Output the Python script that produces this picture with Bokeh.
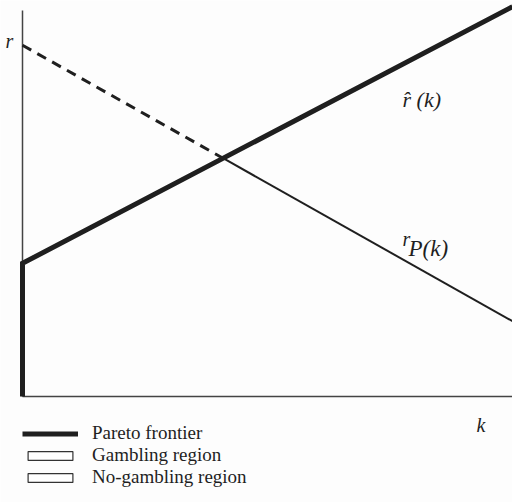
import numpy as np
from bokeh.plotting import figure
from bokeh.models import Range1d, Legend, LegendItem
from bokeh.core.properties import value
from bokeh.embed import file_html
from bokeh.resources import INLINE

# ---------------- data ----------------
k_ends = [0.0, 10.0]          # k at the two ends of the drawn lines
r_hat_ends = [3.45, 10.1]     # r-hat(k) at those k
r_p_ends = [9.1, 1.95]        # r_P(k) at those k
axis_k_max = 10.0
axis_r_max = 10.0
legend_labels = ["Pareto frontier", "Gambling region", "No-gambling region"]
axis_labels = ["r", "k"]
curve_labels = ["r\u0302 (k)", "r", "P(k)"]

# intersection of the two straight lines
m_hat = (r_hat_ends[1] - r_hat_ends[0]) / (k_ends[1] - k_ends[0])
m_p = (r_p_ends[1] - r_p_ends[0]) / (k_ends[1] - k_ends[0])
k_star = (r_p_ends[0] - r_hat_ends[0]) / (m_hat - m_p)
r_star = r_hat_ends[0] + m_hat * k_star

# ---------------- layout ----------------
W, H = 512, 502
PX_K = 49.0    # pixels per k unit
PX_R = 38.6    # pixels per r unit
ORIGIN_X, ORIGIN_Y = 22.0, 396.0   # canvas position of the origin


def kx(cx):
    return (cx - ORIGIN_X) / PX_K


def ry(cy):
    return (ORIGIN_Y - cy) / PX_R


INK = "#1f1f1f"
FONT = "Liberation Serif"

p = figure(width=W, height=H, output_backend="svg", toolbar_location=None,
           x_range=Range1d(kx(0), kx(W)), y_range=Range1d(ry(H), ry(0)),
           x_axis_location=None, y_axis_location=None,
           min_border=0, outline_line_color=None,
           background_fill_color="#fdfdfd", border_fill_color="#fdfdfd")
p.grid.visible = False

# axes
p.line([0, 0], [0, axis_r_max], line_color="#444444", line_width=1.5)
p.line([0, axis_k_max], [0, 0], line_color="#444444", line_width=1.5)

# r_P(k): dashed before the crossing, thin solid after
p.line([k_ends[0], k_star], [r_p_ends[0], r_star], line_color=INK,
       line_width=3, line_dash="10 7")
p.line([k_star, k_ends[1]], [r_star, r_p_ends[1]], line_color=INK,
       line_width=2)

# Pareto frontier (thick)
frontier = p.line([k_ends[0], k_ends[0], k_ends[1]],
                  [0, r_hat_ends[0], r_hat_ends[1]],
                  line_color=INK, line_width=5, line_join="miter")

# legend-only renderers for the (unshaded) regions
gamb = p.rect(x=[np.nan], y=[np.nan], width=1, height=1, fill_color="white",
              line_color="#333333", line_width=1.2)
nogamb = p.rect(x=[np.nan], y=[np.nan], width=1, height=1, fill_color="white",
                line_color="#333333", line_width=1.2)

# labels
txt = dict(text_font=value(FONT), text_font_style="italic",
           text_color=INK, text_baseline="alphabetic")
p.text(x=[kx(5)], y=[ry(40)], text=[axis_labels[0]], text_font_size="20px", **txt)
p.text(x=[kx(476)], y=[ry(424)], text=[axis_labels[1]], text_font_size="20px", **txt)
p.text(x=[kx(402)], y=[ry(99)], text=[curve_labels[0]], text_font_size="22px", **txt)
p.text(x=[kx(402)], y=[ry(238)], text=[curve_labels[1]], text_font_size="20px", **txt)
p.text(x=[kx(408)], y=[ry(248)], text=[curve_labels[2]], text_font_size="23px", **txt)

legend = Legend(items=[LegendItem(label=legend_labels[0], renderers=[frontier]),
                       LegendItem(label=legend_labels[1], renderers=[gamb]),
                       LegendItem(label=legend_labels[2], renderers=[nogamb])],
                location=(22, 14), orientation="vertical",
                glyph_width=56, glyph_height=11, label_height=21,
                spacing=0, padding=0, margin=0, label_standoff=14,
                border_line_color=None, background_fill_alpha=0,
                label_text_font=FONT, label_text_font_size="19px",
                label_text_color=INK)
p.add_layout(legend)

open("out.html", "w").write(file_html(p, INLINE))
